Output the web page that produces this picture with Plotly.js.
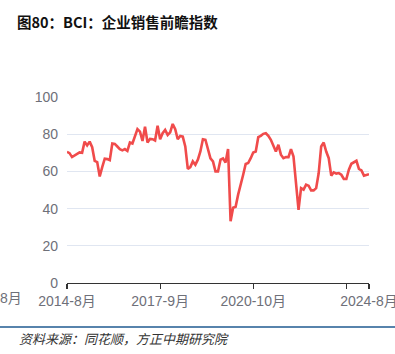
<!DOCTYPE html>
<html>
<head>
<meta charset="utf-8">
<script src="https://cdn.plot.ly/plotly-3.0.1.min.js"></script>
<style>
html,body{margin:0;padding:0;background:#fff;}
#chart{width:395px;height:354px;}
</style>
</head>
<body>
<div id="chart"></div>
<script>
// Monthly BCI enterprise sales forward-looking index, 2014-08 .. 2024-08
var startYear = 2014, startMonth = 8;
var bciSales = [
  70.5, 69.8, 67.7, 68.4, 69.5, 70.2, 70.0, 76.0, 74.0, 76.0,
  73.0, 65.7, 65.0, 57.3, 62.3, 66.8, 66.6, 66.0, 75.0, 74.8,
  73.4, 72.0, 71.3, 72.0, 71.0, 75.5, 75.0, 78.7, 82.7, 81.4,
  76.4, 84.0, 75.5, 77.5, 77.3, 76.6, 84.5, 77.3, 80.5, 82.3,
  79.6, 81.0, 85.5, 82.7, 77.3, 79.0, 78.7, 73.4, 61.3, 62.3,
  65.4, 63.6, 66.3, 70.7, 77.3, 77.0, 72.5, 67.0, 65.4, 60.0,
  60.0, 66.3, 67.0, 64.8, 72.0, 33.2, 40.5, 41.0, 47.5, 53.8,
  58.2, 64.0, 64.5, 67.1, 70.2, 70.7, 78.4, 79.1, 80.2, 80.5,
  79.1, 77.0, 74.0, 70.7, 74.3, 69.0, 67.1, 67.7, 67.7, 72.0,
  68.0, 52.9, 39.3, 51.0, 50.2, 52.9, 52.3, 49.8, 49.8, 51.0,
  59.0, 73.4, 75.5, 70.7, 67.1, 57.7, 59.5, 58.8, 59.1, 58.2,
  55.9, 55.9, 60.9, 64.1, 64.8, 65.7, 61.3, 60.5, 57.7, 58.2,
  58.5
];
// Category labels (one per month)
var months = [];
for (var i = 0; i < bciSales.length; i++) {
  var m = startMonth - 1 + i;
  months.push((startYear + Math.floor(m / 12)) + '-' + (m % 12 + 1) + '月');
}
var tickIdx = [0, 37, 74, 111, 120];
var tickText = ['2014-8月', '2017-9月', '2020-10月', '', '2024-8月'];
var yTicks = [0, 20, 40, 60, 80, 100];

var titleText = '<b>图80：BCI：企业销售前瞻指数</b>';
var sourceText = '<i>资料来源：同花顺，方正中期研究院</i>';

var W = 395, H = 354, L = 67, R = 26, T = 97, B = 71;
var pw = W - L - R, ph = H - T - B;
function px(x) { return (x - L) / pw; }
function py(y) { return (H - B - y) / ph; }

var trace = {
  type: 'scatter',
  mode: 'lines',
  x: months,
  y: bciSales,
  line: {color: '#f04b4b', width: 2.6},
  hoverinfo: 'x+y'
};

var layout = {
  width: W, height: H,
  margin: {l: L, r: R, t: T, b: B, pad: 0},
  paper_bgcolor: '#ffffff',
  plot_bgcolor: '#ffffff',
  showlegend: false,
  font: {family: '"Liberation Sans", Arial, "Noto Sans CJK SC", sans-serif', size: 14, color: '#6e7079'},
  title: {
    text: titleText,
    x: 17 / W, xanchor: 'left', xref: 'container',
    y: 1 - 23 / H, yanchor: 'middle', yref: 'container',
    font: {family: '"Noto Sans CJK SC", sans-serif', size: 14.5, color: '#111111'}
  },
  xaxis: {
    type: 'category',
    range: [0, bciSales.length - 1],
    tickmode: 'array',
    tickvals: tickIdx.map(function (k) { return months[k]; }),
    ticktext: tickText,
    ticks: 'outside', ticklen: 5, tickwidth: 1.2, tickcolor: '#333333',
    showline: true, linecolor: '#333333', linewidth: 1.2,
    showgrid: false, zeroline: false,
    tickangle: 0,
    tickfont: {size: 14, color: '#6e7079'},
    fixedrange: true
  },
  yaxis: {
    range: [0, 100],
    tickmode: 'array',
    tickvals: yTicks,
    showgrid: true, gridcolor: '#e0e6f1', gridwidth: 1,
    zeroline: false, showline: false, ticks: '',
    ticklabelstandoff: 8,
    tickfont: {size: 14, color: '#6e7079'},
    fixedrange: true
  },
  shapes: [{
    type: 'line', xref: 'paper', yref: 'paper',
    x0: px(0), x1: px(W), y0: py(327), y1: py(327),
    line: {color: '#1f5a90', width: 1.5}
  }],
  annotations: [{
    text: sourceText, xref: 'paper', yref: 'paper',
    x: px(17), y: py(338), xanchor: 'left', yanchor: 'middle',
    showarrow: false,
    font: {family: '"Noto Sans CJK SC", sans-serif', size: 13, color: '#333333'}
  }, {
    text: '8月', xref: 'paper', yref: 'paper',
    x: px(-2), y: py(298), xanchor: 'left', yanchor: 'middle',
    showarrow: false,
    font: {size: 14, color: '#6e7079'}
  }]
};

Plotly.newPlot('chart', [trace], layout, {displayModeBar: false, staticPlot: true});
</script>
</body>
</html>
